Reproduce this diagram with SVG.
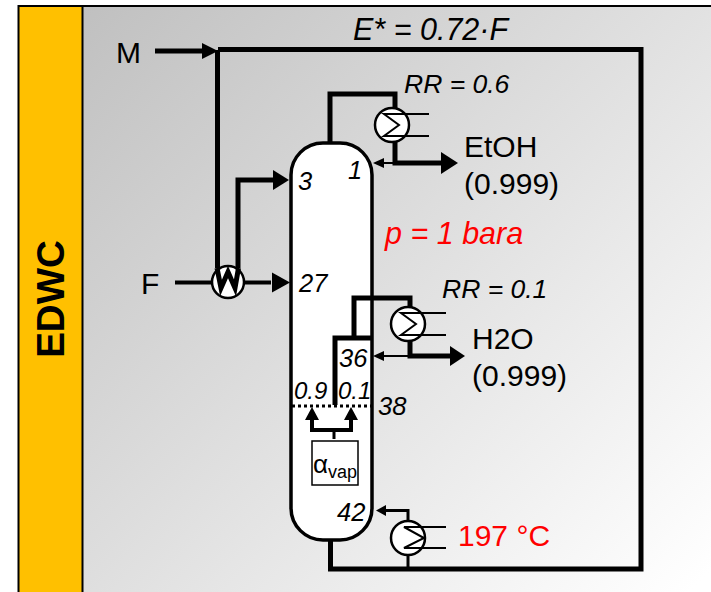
<svg xmlns="http://www.w3.org/2000/svg" width="711" height="592" viewBox="0 0 711 592">
<defs>
<linearGradient id="bg" gradientUnits="userSpaceOnUse" x1="83" y1="6" x2="690" y2="592"><stop offset="0" stop-color="#c0c0c0"/><stop offset="1" stop-color="#ffffff"/></linearGradient>
</defs>
<style>
.t{font-family:"Liberation Sans",Arial,sans-serif;fill:#000}
.i{font-style:italic;font-size:30.500px}
.s{font-style:italic;font-size:25.500px}
.l{font-size:30px}
.r{fill:#f00}
.p{fill:none;stroke:#000;stroke-linejoin:miter}
.b{stroke-width:5px}
.m{stroke-width:4px}
.n{stroke-width:2px}
.hx{fill:#fff;stroke:#000;stroke-width:2.5px}
</style>
<rect x="0" y="0" width="711" height="592" fill="#fff"/>
<rect x="83" y="6" width="628" height="586" fill="url(#bg)"/>
<rect id="band" x="18.500" y="6" width="64" height="587" fill="#ffc000" stroke="#000" stroke-width="2"/>
<line x1="18" y1="6" x2="711" y2="6" stroke="#000" stroke-width="2"/>
<text class="t" x="0" y="0" transform="translate(64,299) rotate(-90)" text-anchor="middle" font-size="38.500" font-weight="bold">EDWC</text>

<g id="column"><rect x="291" y="143" width="81" height="397" rx="32" ry="32" fill="#fff" stroke="#000" stroke-width="3.500"/></g>

<g id="connectors">
<path class="p b" d="M155 51H204"/>
<path d="M202 43L218 51L202 59Z" fill="#000"/>
<path class="p b" d="M218 49.500H641V569H330.500V541"/>
<path class="p b" d="M217.500 50V268"/>
<path class="p b" d="M238 268V180H275"/>
<path d="M273 170L289 180L273 190Z" fill="#000"/>
<path class="p m" d="M175 282.500H271"/>
<path d="M272 272.500L290 282.500L272 292.500Z" fill="#000"/>
<path class="p b" d="M330 142V94H395V113"/>
<path class="p b" d="M395 142V163H442"/>
<path d="M441 152L458 163L441 174Z" fill="#000"/>
<path class="p n" d="M395 163H380"/>
<path d="M384 158L373 163L384 168Z" fill="#000"/>
<path class="p b" d="M354 337V298H410V309"/>
<path class="p b" d="M335 405V338H372"/>
<path class="p b" d="M410 340V356H452"/>
<path d="M450 346L465 356L450 366Z" fill="#000"/>
<path class="p n" d="M410 356H382"/>
<path d="M384 351L373 356L384 361Z" fill="#000"/>
<path d="M292 406H371" fill="none" stroke="#000" stroke-width="3" stroke-dasharray="3 3"/>
<path class="p m" d="M312 420V430H351V420"/>
<path class="p n" d="M334 430V439" style="stroke-width:3px"/>
<path d="M305 420L312 407L319 420Z M344 420L351 407L358 420Z" fill="#000"/>
<path class="p" style="stroke-width:3px" d="M408 521V510.500H384"/>
<path d="M386 505L376 510.500L386 516Z" fill="#000"/>
<path class="p" style="stroke-width:3px" d="M408 555V569"/>
</g>

<g id="hx-feed"><circle class="hx" cx="228" cy="282" r="16"/><path d="M217 268L221 288L228 272L235 288L238.500 268" fill="none" stroke="#000" stroke-width="5"/></g>
<g id="hx-top">
<circle class="hx" cx="392" cy="125" r="17"/>
<path class="p n" d="M396 114H429M396 136H429M403 114L384 114L399 125L384 136H403"/>
</g>
<g id="hx-mid">
<circle class="hx" cx="408" cy="324" r="17"/>
<path class="p n" d="M412 313H446M412 335H446M420 313L401 313L416 324L401 335H420"/>
</g>
<g id="hx-bot">
<circle class="hx" cx="408" cy="538" r="17"/>
<path class="p n" d="M412 527H446M412 548H446M420 527L404 527L424 538L404 548H420"/>
</g>
<g id="alpha"><rect x="312" y="441" width="46" height="44" fill="#fff" stroke="#000" stroke-width="1.500"/>
<text class="t" x="313" y="473" font-size="26">α<tspan font-size="18" dy="5">vap</tspan></text></g>

<g id="labels">
<text class="t l" x="116" y="63">M</text>
<text class="t l" x="141" y="294">F</text>
<text class="t i" x="353" y="40">E* = 0.72·F</text>
<text class="t s" x="404" y="93" style="font-size:26.500px">RR = 0.6</text>
<text class="t l" x="464" y="157">EtOH</text>
<text class="t l" x="464" y="194">(0.999)</text>
<text class="t i r" x="385" y="244">p = 1 bara</text>
<text class="t s" x="442" y="298" style="font-size:26.500px">RR = 0.1</text>
<text class="t l" x="472" y="349">H2O</text>
<text class="t l" x="472" y="386">(0.999)</text>
<text class="t l r" x="458" y="546">197 °C</text>
<text class="t s" x="298" y="190">3</text>
<text class="t s" x="348" y="179">1</text>
<text class="t s" x="299" y="292">27</text>
<text class="t s" x="339" y="367">36</text>
<text class="t s" x="294" y="399" style="font-size:24px">0.9</text>
<text class="t s" x="338" y="399" style="font-size:24px">0.1</text>
<text class="t s" x="378" y="415">38</text>
<text class="t s" x="337" y="521">42</text>
</g>
</svg>
